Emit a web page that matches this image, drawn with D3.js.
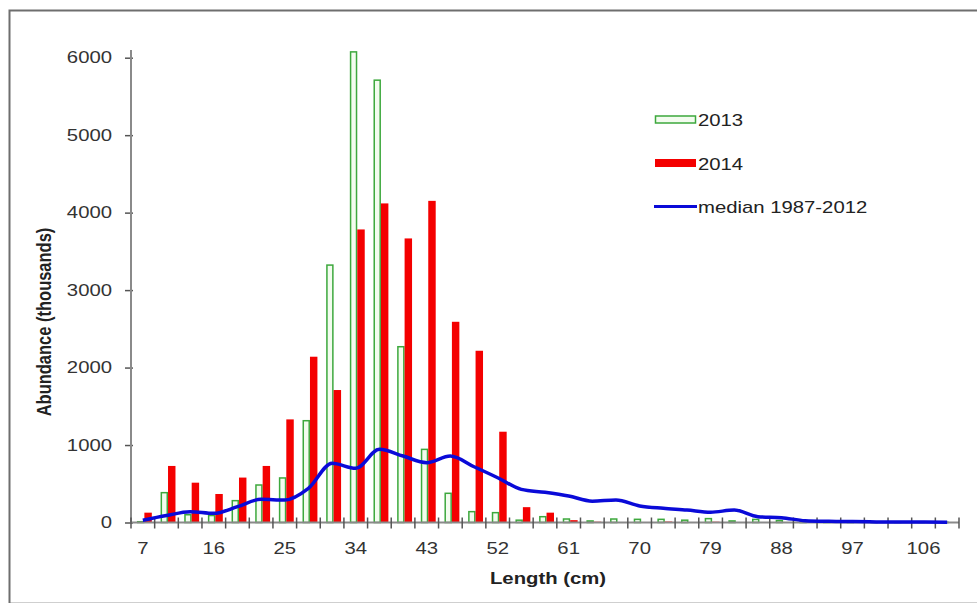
<!DOCTYPE html>
<html>
<head>
<meta charset="utf-8">
<script src="https://cdn.jsdelivr.net/npm/d3@7"></script>
<style>
  body { margin: 0; background: #fff; }
  svg { display: block; font-family: "Liberation Sans", Arial, sans-serif; }
</style>
</head>
<body>
<div id="chart"></div>
<script>
// length classes (cm)
var lengths = [7, 10, 13, 16, 19, 22, 25, 28, 31, 34, 37, 40, 43, 46, 49, 52, 55, 58,
               61, 64, 67, 70, 73, 76, 79, 82, 85, 88, 91, 94, 97, 100, 103, 106, 109];
// abundance (thousands)
var abund2013 = [10, 385, 100, 90, 282, 484, 575, 1314, 3323, 6075, 5710, 2269, 944, 377, 140, 127, 30, 75,
                 45, 20, 45, 41, 41, 30, 50, 20, 40, 25, 10, 5, 5, 3, 3, 3, 3];
var abund2014 = [127, 730, 514, 368, 580, 730, 1331, 2140, 1710, 3783, 4119, 3667, 4152, 2591, 2217, 1172, 198, 127,
                 30, 10, 5, 5, 12, 5, 10, 5, 0, 0, 0, 0, 0, 0, 0, 0, 0];
var median8712 = [30, 90, 140, 118, 204, 300, 290, 441, 764, 699, 944, 858, 772, 858, 720, 578, 428, 390,
                  342, 275, 290, 213, 183, 161, 133, 161, 75, 62, 23, 15, 12, 8, 6, 5, 3];
var yTicks = [0, 1000, 2000, 3000, 4000, 5000, 6000];
var xLabels = [7, 16, 25, 34, 43, 52, 61, 70, 79, 88, 97, 106];
var seriesNames = ["2013", "2014", "median 1987-2012"];

(function () {
	var W = 977, H = 614;
	var sx = 1.27; // the original picture is stretched sideways, text too
	var plot = {left: 131, right: 959, top: 57.7, bottom: 522.5};

	var svg = d3.select("#chart").append("svg")
		.attr("width", W)
		.attr("height", H);

	// frame
	svg.append("rect")
		.attr("x", 9.5).attr("y", 10.5)
		.attr("width", 985).attr("height", 592)
		.attr("fill", "#fff")
		.attr("stroke", "#cfcfcf");
	svg.append("path")
		.attr("d", "M9.5,603V10.5H977")
		.attr("fill", "none")
		.attr("stroke", "#6e6e6e")
		.attr("stroke-width", 2);

	// scales
	var x = d3.scaleBand()
		.domain(lengths)
		.range([plot.left, plot.right])
		.padding(0);
	var bw = x.bandwidth();
	var x1 = d3.scaleBand()
		.domain(["2013", "2014"])
		.range([bw * 0.25, bw * 0.88]);
	var y = d3.scaleLinear()
		.domain([0, 6000])
		.range([plot.bottom, plot.top]);

	var data = lengths.map(function (d, i) {
		return {len: d, a13: abund2013[i], a14: abund2014[i], med: median8712[i]};
	});

	// bars 2013 (open green)
	svg.append("g").selectAll("rect")
		.data(data)
		.enter().append("rect")
			.attr("x", function (d) { return x(d.len) + x1("2013") + 0.75; })
			.attr("width", x1.bandwidth() - 1.5)
			.attr("y", function (d) { return y(d.a13); })
			.attr("height", function (d) { return y(0) - y(d.a13); })
			.attr("fill", "#f3fcef")
			.attr("stroke", "#3da83d")
			.attr("stroke-width", 1.5);

	// bars 2014 (red)
	svg.append("g").selectAll("rect")
		.data(data)
		.enter().append("rect")
			.attr("x", function (d) { return x(d.len) + x1("2014"); })
			.attr("width", x1.bandwidth())
			.attr("y", function (d) { return y(d.a14); })
			.attr("height", function (d) { return y(0) - y(d.a14); })
			.attr("fill", "#f40000");

	// y axis
	var yAxis = svg.append("g")
		.attr("transform", "translate(" + plot.left + ",0)")
		.call(d3.axisLeft(y).tickValues(yTicks).tickFormat(d3.format("d")).tickSize(6).tickPadding(13));
	yAxis.select(".domain").remove();
	yAxis.append("line")
		.attr("y1", plot.bottom).attr("y2", 50)
		.attr("stroke", "#8a8a8a").attr("stroke-width", 2);
	yAxis.selectAll(".tick line").attr("x2", -6).attr("x1", 2).attr("stroke", "#555").attr("stroke-width", 1.5);
	yAxis.selectAll(".tick text")
		.attr("x", -19 / sx)
		.attr("transform", "scale(" + sx + ",1)")
		.attr("font-size", 16)
		.attr("font-family", "Liberation Sans, Arial, sans-serif")
		.attr("fill", "#333");

	// x axis
	var xAxis = svg.append("g")
		.attr("transform", "translate(0," + plot.bottom + ")")
		.call(d3.axisBottom(x).tickSize(0).tickPadding(20)
			.tickFormat(function (d) { return xLabels.indexOf(d) >= 0 ? d : ""; }));
	xAxis.select(".domain").remove();
	xAxis.append("line")
		.attr("x1", plot.left).attr("x2", plot.right)
		.attr("stroke", "#8a8a8a").attr("stroke-width", 2);
	xAxis.selectAll(".tick text")
		.attr("transform", "scale(" + sx + ",1)")
		.attr("font-size", 16)
		.attr("font-family", "Liberation Sans, Arial, sans-serif")
		.attr("fill", "#333");
	var bounds = lengths.map(function (d) { return x(d); }).concat([plot.right]);
	xAxis.selectAll(".bound")
		.data(bounds)
		.enter().append("line")
			.attr("class", "bound")
			.attr("x1", function (d) { return d; })
			.attr("x2", function (d) { return d; })
			.attr("y1", -5).attr("y2", 6)
			.attr("stroke", "#555").attr("stroke-width", 1.5);

	// median line
	var line = d3.line()
		.x(function (d) { return x(d.len) + bw / 2; })
		.y(function (d) { return y(d.med); })
		.curve(d3.curveMonotoneX);
	svg.append("path")
		.datum(data)
		.attr("d", line)
		.attr("fill", "none")
		.attr("stroke", "#0a0ad8")
		.attr("stroke-width", 3.5)
		.attr("stroke-linejoin", "round");

	// axis titles
	svg.append("text")
		.attr("transform", "translate(548,584) scale(" + sx + ",1)")
		.attr("text-anchor", "middle")
		.attr("font-weight", "bold")
		.attr("font-size", 16)
		.attr("fill", "#222")
		.text("Length (cm)");
	svg.append("text")
		.attr("transform", "translate(51,322) scale(" + sx + ",1) rotate(-90)")
		.attr("text-anchor", "middle")
		.attr("font-weight", "bold")
		.attr("font-size", 16.5)
		.attr("fill", "#222")
		.text("Abundance (thousands)");

	// legend
	var leg = svg.append("g");
	leg.append("rect")
		.attr("x", 655.5).attr("y", 116)
		.attr("width", 40).attr("height", 7)
		.attr("fill", "#f3fcef").attr("stroke", "#3da83d").attr("stroke-width", 1.5);
	leg.append("rect")
		.attr("x", 655).attr("y", 159)
		.attr("width", 41).attr("height", 8)
		.attr("fill", "#f40000");
	leg.append("line")
		.attr("x1", 654).attr("x2", 697)
		.attr("y1", 206.5).attr("y2", 206.5)
		.attr("stroke", "#0a0ad8").attr("stroke-width", 3);
	var legY = [126, 170, 213];
	leg.selectAll("text")
		.data(seriesNames)
		.enter().append("text")
			.attr("transform", function (d, i) { return "translate(698," + legY[i] + ") scale(" + sx + ",1)"; })
			.attr("font-size", 16)
			.attr("fill", "#222")
			.text(function (d) { return d; });
})();
</script>
</body>
</html>
